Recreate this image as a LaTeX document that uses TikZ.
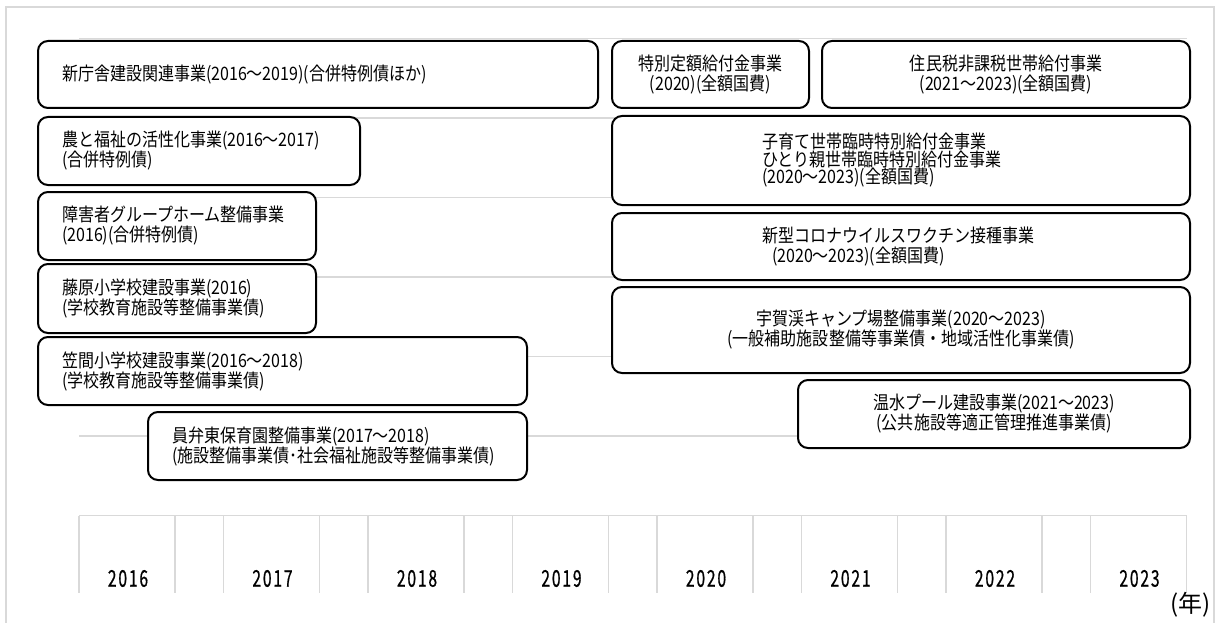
\documentclass[tikz,border=0pt]{standalone}
\usepackage{fontspec}
\newfontfamily\jpfont[FakeStretch=0.865]{Noto Sans CJK JP}
\newfontfamily\axisfont[FakeStretch=0.68,LetterSpace=8,FakeBold=0.6]{Noto Sans CJK JP}
\newfontfamily\unitfont{Noto Sans CJK JP}
\definecolor{gridgray}{HTML}{D9D9D9}
\begin{document}
\begin{tikzpicture}[x=1pt,y=-1pt,
  box/.style={draw=black, line width=2pt, rounded corners=10pt, fill=white,
    font=\jpfont\fontsize{18.5pt}{20pt}\selectfont, inner ysep=0pt},
  lbox/.style={box, align=left, inner xsep=24pt},
  cbox/.style={box, align=center, inner xsep=10pt},
  wbox/.style={box, align=left, inner xsep=150pt, text width=278pt},
  gridline/.style={draw=gridgray, line width=1.5pt},
  framestyle/.style={draw=gridgray, line width=1.5pt},
  yr/.style={font=\axisfont\fontsize{23pt}{23pt}\selectfont, inner sep=0pt}]
\useasboundingbox (0,0) rectangle (1217,623);
% frame
\draw[framestyle] (6,640) -- (6,7) -- (1214,7) -- (1214,640);
% horizontal grid
\foreach \yy in {38.5,118,197.5,277,356.5,436,515.5}
  \draw[gridline] (79,\yy) -- (1186.5,\yy);
% vertical axis lines
\foreach \k in {0,...,7} {
  \draw[gridline] ({79+144.5*\k},515.5) -- ({79+144.5*\k},593);
  \draw[gridline] ({175+144.5*\k},515.5) -- ({175+144.5*\k},593);
}
% year labels
\foreach \yr [count=\k from 0] in {2016,2017,2018,2019,2020,2021,2022,2023}
  \node[yr] (y\yr) at ({128+144.5*\k},578.5) {\yr};
\node[font=\unitfont\fontsize{24pt}{24pt}\selectfont, inner sep=0pt, anchor=east] (unit) at (1211,605) {(年)};

% left column boxes
\node[lbox, minimum width=560pt, minimum height=67pt, text width=512pt] (b1) at (318,74.5)
  {新庁舎建設関連事業(2016～2019)(合併特例債ほか)};
\node[lbox, minimum width=322pt, minimum height=68pt, text width=274pt] (b4) at (199,151)
  {農と福祉の活性化事業(2016～2017)\\(合併特例債)};
\node[lbox, minimum width=278pt, minimum height=68pt, text width=230pt] (b6) at (177,226)
  {障害者グループホーム整備事業\\(2016)(合併特例債)};
\node[lbox, minimum width=278pt, minimum height=69pt, text width=230pt] (b8) at (177,298.5)
  {藤原小学校建設事業(2016)\\(学校教育施設等整備事業債)};
\node[lbox, minimum width=489pt, minimum height=68pt, text width=441pt] (b10) at (282.5,371)
  {笠間小学校建設事業(2016～2018)\\(学校教育施設等整備事業債)};
\node[lbox, minimum width=379pt, minimum height=68pt, text width=331pt] (b12) at (337.5,446)
  {員弁東保育園整備事業(2017～2018)\\(施設整備事業債･社会福祉施設等整備事業債)};

% right column boxes
\node[cbox, minimum width=197pt, minimum height=67pt, text width=177pt] (b2) at (710.5,74.5)
  {特別定額給付金事業\\(2020)(全額国費)};
\node[cbox, minimum width=368pt, minimum height=67pt, text width=348pt] (b3) at (1006,74.5)
  {住民税非課税世帯給付事業\\(2021～2023)(全額国費)};
\node[wbox, minimum width=578pt, minimum height=89pt,
  font=\jpfont\fontsize{18.5pt}{17.5pt}\selectfont] (b5) at (901,160.5)
  {子育て世帯臨時特別給付金事業\\ひとり親世帯臨時特別給付金事業\\(2020～2023)(全額国費)};
\node[wbox, minimum width=578pt, minimum height=67pt] (b7) at (901,246.5)
  {新型コロナウイルスワクチン接種事業\\\hspace*{10pt}(2020～2023)(全額国費)};
\node[cbox, minimum width=578pt, minimum height=86pt, text width=558pt] (b9) at (901,330)
  {宇賀渓キャンプ場整備事業(2020～2023)\\(一般補助施設整備等事業債・地域活性化事業債)};
\node[cbox, minimum width=392pt, minimum height=68pt, text width=372pt] (b11) at (994,414)
  {温水プール建設事業(2021～2023)\\(公共施設等適正管理推進事業債)};
\end{tikzpicture}
\end{document}
